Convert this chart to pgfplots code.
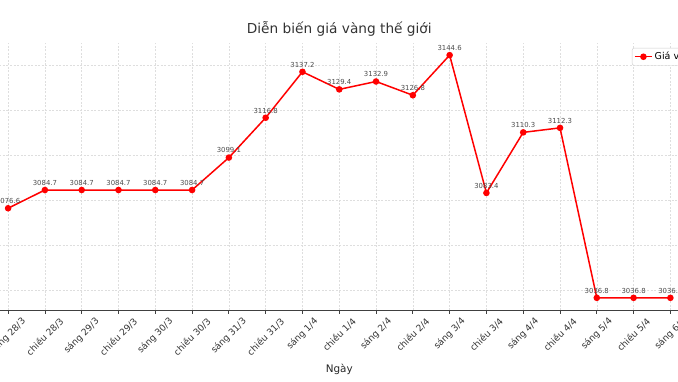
\documentclass[border=0pt]{standalone}
\usepackage{fontspec}
\setmainfont{DejaVu Sans}
\usepackage{graphicx}
\usepackage{pgfplots}
\pgfplotsset{compat=1.18}
\newcommand{\rl}[1]{\rotatebox{45}{#1}}
\begin{document}
\begin{tikzpicture}
\useasboundingbox (25pt,-71pt) rectangle (703pt,310pt);
\clip (25pt,-71pt) rectangle (703pt,310pt);
\begin{axis}[
  scale only axis, width=728.5pt, height=267pt,
  xmin=-0.9, xmax=18.9, ymin=3031.4, ymax=3150.0,
  axis x line*=bottom, axis y line*=left,
  axis line style={black!75, line width=0.8pt},
  /pgf/number format/assume math mode=true,
  xmajorgrids, ymajorgrids,
  grid style={dash pattern=on 2pt off 1.5pt, black!13, line width=0.5pt},
  xtick={0,...,18},
  ytick={3040,3060,3080,3100,3120,3140},
  xticklabels={\rl{sáng 28/3},\rl{chiều 28/3},\rl{sáng 29/3},\rl{chiều 29/3},\rl{sáng 30/3},\rl{chiều 30/3},\rl{sáng 31/3},\rl{chiều 31/3},\rl{sáng 1/4},\rl{chiều 1/4},\rl{sáng 2/4},\rl{chiều 2/4},\rl{sáng 3/4},\rl{chiều 3/4},\rl{sáng 4/4},\rl{chiều 4/4},\rl{sáng 5/4},\rl{chiều 5/4},\rl{sáng 6/4}},
  xticklabel style={font=\fontsize{9.1}{10}\selectfont, anchor=north, inner sep=0pt, yshift=-3pt, text=black!80},
  tick align=outside, major tick length=3.5pt,
  tick style={black!75, line width=0.8pt},
  title={Diễn biến giá vàng thế giới},
  title style={font=\fontsize{13.7}{16}\selectfont, text=black!80, anchor=base, at={(axis description cs:0.5,1)}, yshift=4pt},
  xlabel={Ngày},
  xlabel style={font=\fontsize{10.4}{12}\selectfont, text=black!85, anchor=base, at={(axis description cs:0.5,0)}, yshift=-62pt},
  legend style={at={(axis description cs:0.9018,0.9813)}, anchor=north west, font=\fontsize{9.5}{11}\selectfont, draw=black!20, rounded corners=2pt, inner sep=2pt, fill=white},
]
\addplot[red, line width=1.5pt, mark=*, mark size=2.5pt, mark options={fill=red, draw=red},
  nodes near coords={\pgfmathprintnumber[fixed,fixed zerofill,precision=1,1000 sep={}]{\pgfplotspointmeta}},
  every node near coord/.style={font=\fontsize{6.9}{8}\selectfont, text=black!70, anchor=base, inner sep=0pt, yshift=4.7pt}]
coordinates {
(0,3076.6) (1,3084.7) (2,3084.7) (3,3084.7) (4,3084.7) (5,3084.7)
(6,3099.1) (7,3116.8) (8,3137.2) (9,3129.4) (10,3132.9) (11,3126.8)
(12,3144.6) (13,3083.4) (14,3110.3) (15,3112.3) (16,3036.8) (17,3036.8) (18,3036.8)
};
\addlegendentry{Giá vàng}
\end{axis}
\end{tikzpicture}
\end{document}
